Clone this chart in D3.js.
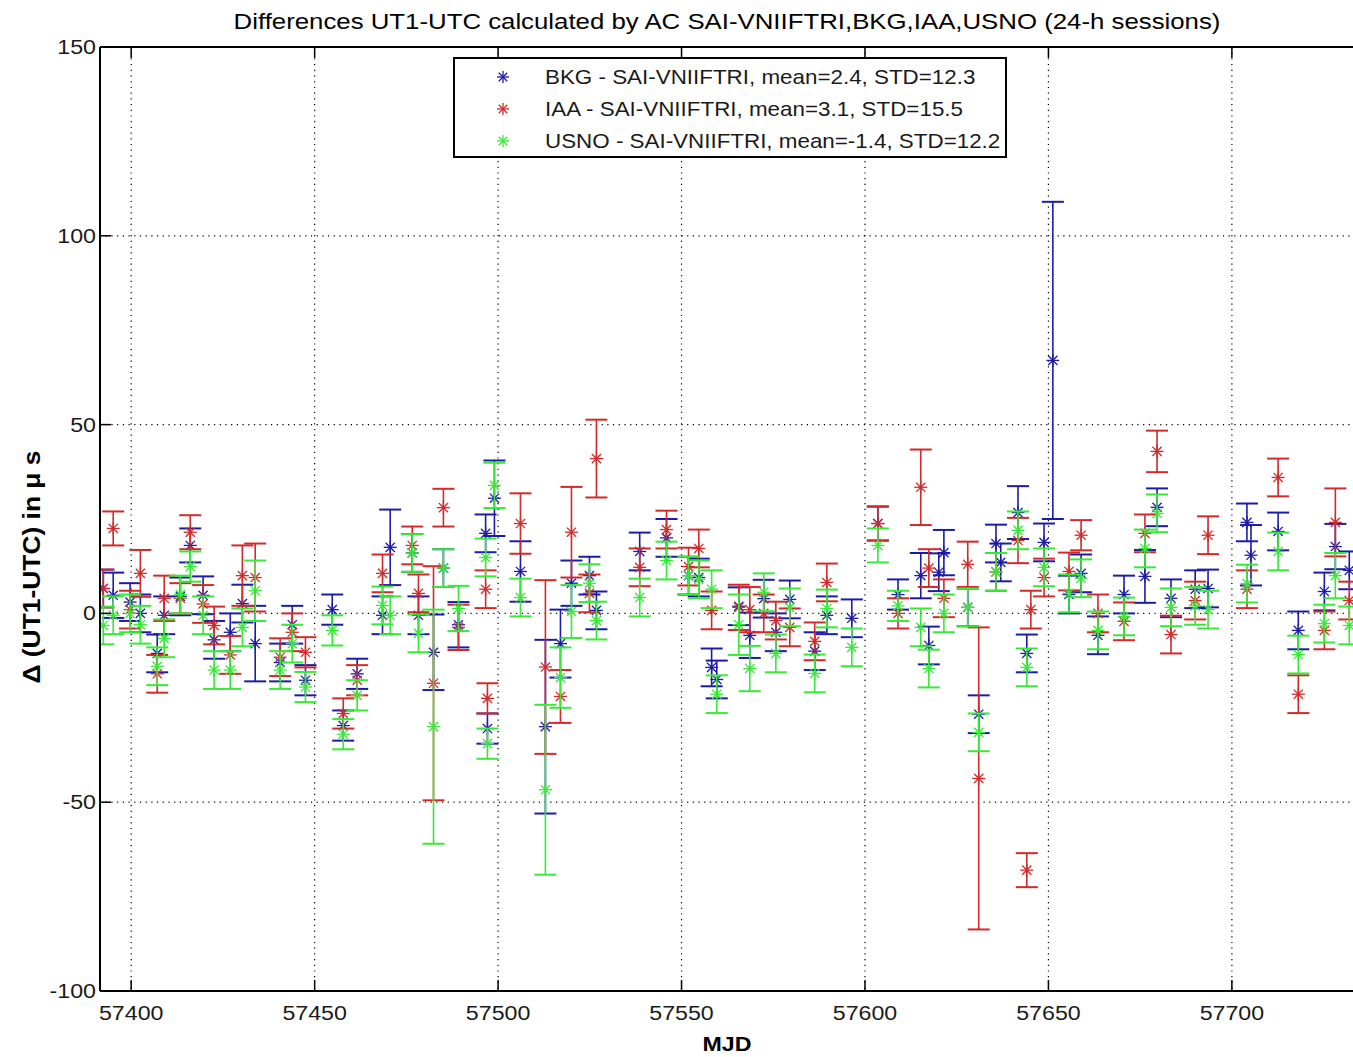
<!DOCTYPE html>
<html>
<head>
<meta charset="utf-8">
<script src="https://cdn.jsdelivr.net/npm/d3@7"></script>
<style>
  body { margin: 0; background: #fff; }
  svg { display: block; font-family: "Liberation Sans", Arial, sans-serif; }
</style>
</head>
<body>
<svg id="chart" width="1353" height="1057"></svg>
<script>
// session dates (MJD)
const mjd = [57392.4, 57395.1, 57399.7, 57402.5, 57407.1, 57409.0, 57413.4, 57416.1, 57419.6, 57422.6,
  57427.0, 57430.3, 57433.8, 57440.6, 57443.9, 57447.5, 57454.8, 57457.8, 57461.6, 57468.5,
  57470.6, 57476.6, 57478.3, 57482.4, 57485.1, 57489.2, 57496.6, 57497.1, 57499.0, 57506.1,
  57512.9, 57517.0, 57520.0, 57524.9, 57526.8, 57538.6, 57545.9, 57551.9, 57554.7, 57558.2,
  57559.6, 57565.6, 57568.6, 57572.4, 57575.7, 57579.5, 57586.3, 57589.6, 57596.4, 57603.5,
  57609.0, 57615.2, 57617.4, 57620.1, 57621.5, 57628.0, 57631.0, 57635.7, 57637.0, 57641.7,
  57644.1, 57645.2, 57648.8, 57651.2, 57655.6, 57658.9, 57663.5, 57670.6, 57676.3, 57679.6,
  57683.4, 57690.0, 57693.5, 57704.1, 57705.2, 57712.6, 57718.1, 57725.2, 57728.2, 57732.0];

// BKG - SAI-VNIIFTRI
const bkg = [6.6, 4.8, 3, 0, -10.6, -0.5, 4.5, 18, 4.8, -7,
  -5, 2.6, -8, -13, -3, -17.7, 1, -29.7, -16, -0.5,
  17.5, 16, -0.5, -10.3, 12, -3, 21.2, -30.5, 30.5, 11.1,
  -30, -8, 8, 10, 0.8, 16.4, 20, 10, 9.5, -14.3,
  -17.5, 1.9, -5.8, 3.9, -5, 3.7, -10, -0.5, -1.3, 23.8,
  5, 10, -8.5, 10.9, 16.1, 1.6, -26.7, 18.5, 13.5, 26.7,
  -10.6, null, 18.8, 67, 5, 10.6, -5.8, 5, 9.8, 28.1,
  4, 6.4, 6.6, 24.1, 15.4, 21.7, -4.5, 5.8, 17.7, 11.4];
const bkgErr = [5, 6, 5, 5, 5, 5, 5, 4.5, 5, 5,
  5, 5, 10, 5, 5, 4, 4, 4, 4, 5,
  10, 5, 5, 10, 5, 6, 5, 4, 10, 8,
  23, 9, 6, 5, 5, 5, 5, 5, 5, 5,
  5, 5, 6, 5, 5, 5, 5, 5, 5, 4.5,
  4, 6, 5, 5, 6, 5, 5, 5, 5, 7,
  5, null, 5, 42, 5, 5, 5, 5, 7, 5,
  5, 5, 5, 5, 8, 5, 5, 5, 6, 5];

// IAA - SAI-VNIIFTRI
const iaa = [6.6, 22.5, 1, 10.6, -16, 4, 4, 21.5, 2.5, -3.2,
  -11, 10, 9.5, -11.6, -5, -10.3, null, -26.5, -17.7, 10.6,
  null, 18, 5.3, -18.5, 28, -3.7, 6.4, -22.5, null, 23.8,
  -14.2, -22, 21.5, 5.3, 41, 12.2, 22.2, 12.4, 17.2, 0.8,
  null, 1.6, 1, 0, -1.9, -3.7, -7.4, 8.2, null, 23.8,
  0, 33.4, 12, null, 4, 13, -43.7, 11, null, 19.3,
  -68, 1, 9.5, null, 11.1, 20.7, 0, -2.1, 21.2, 42.9,
  -5.6, 3.4, 20.7, 6.4, null, 36, -21.4, -4.5, 24.1, 3.4];
const iaaErr = [5, 4.5, 5, 6.2, 5, 6, 4, 4.5, 5, 5,
  5, 8, 9, 5, 5, 4, null, 4, 4, 5,
  null, 5, 5, 31, 5, 6, 5, 4, null, 8,
  23, 7, 12, 5, 10.3, 5, 5, 5, 5, 5,
  null, 6, 6, 5, 5, 5, 5, 5, null, 4.5,
  4, 10, 5, null, 5, 6, 40, 5, null, 6,
  4.5, 5, 5, null, 5, 4, 5, 5, 5, 5.5,
  5, 5, 5, 5, null, 5, 5, 5, 9, 5];

// USNO - SAI-VNIIFTRI
const usno = [-3.2, -0.5, 0, -3, -14, -6.6, 5, 12.4, -0.5, -15,
  -15, -3.7, 6, -15, -8, -19.5, -4.5, -32, -21.7, 2.1,
  -0.5, 16, -5.3, -30, 12, 1.3, 14.8, -34.5, 33.9, 4.2,
  -46.7, -17, 0.5, 8, -1.9, 4.2, 14, 10, 9, 6.4,
  -21.4, -3, -14.6, 5.6, -10.6, 1.6, -15.9, 1.3, -9, 18,
  2, -3.7, -14.6, null, 0, 1.6, -31.5, 11, null, 22,
  -14.3, null, 12.2, null, 5.3, 9.3, -4.5, -0.8, 17.2, 26.5,
  1.6, 2, 1, 7.9, null, 16.4, -10.9, -2.7, 10, -3.2];
const usnoErr = [5, 5, 5, 5, 5, 5, 5, 4, 5, 5,
  5, 5, 8, 5, 5, 4, 4, 4, 4, 5,
  5, 5, 5, 31, 5, 6, 5, 4, 6, 5,
  22.5, 8, 7, 5, 5, 5, 5, 5, 5, 5,
  5, 8, 6, 5, 5, 5, 5, 5, 5, 4.5,
  4, 5, 5, null, 5, 5, 5, 5, null, 5,
  5, null, 5, null, 5, 5, 5, 5, 5, 5,
  5, 5, 5, 5, null, 5, 5, 5, 6, 5];

const seriesNames = ["BKG - SAI-VNIIFTRI, mean=2.4, STD=12.3",
  "IAA - SAI-VNIIFTRI, mean=3.1, STD=15.5",
  "USNO - SAI-VNIIFTRI, mean=-1.4, STD=12.2"];
const seriesColors = ["#1c1ca8", "#d22a2a", "#36ea36"];

const xTicks = [57400, 57450, 57500, 57550, 57600, 57650, 57700];
const yTicks = [-100, -50, 0, 50, 100, 150];

const svg = d3.select("#chart");
const margin = { top: 47, left: 100, bottom: 991 };
const xRightPx = 1397; // frame continues past the picture edge

const x = d3.scaleLinear().domain([57391.5, 57745]).range([margin.left, xRightPx]);
const y = d3.scaleLinear().domain([-100, 150]).range([margin.bottom, margin.top]);

svg.append("clipPath").attr("id", "plotclip")
  .append("rect").attr("x", margin.left).attr("y", margin.top)
  .attr("width", xRightPx - margin.left).attr("height", margin.bottom - margin.top);

// text in the original picture is a bit wider than Arial, stretch it
function label(parent, tx, ty, str, opts) {
  const sx = opts.sx || 1.16;
  return parent.append("text")
    .attr("transform", `translate(${tx},${ty})${opts.rotate ? " rotate(-90)" : ""} scale(${sx},1)`)
    .attr("text-anchor", opts.anchor || "middle")
    .attr("font-size", opts.size || 20)
    .attr("font-weight", opts.weight || "normal")
    .attr("fill", opts.fill || "#1a1a1a")
    .text(str);
}

// dotted grid
const grid = svg.append("g");
grid.selectAll(".gx").data(xTicks).enter().append("line")
  .attr("x1", d => x(d)).attr("x2", d => x(d))
  .attr("y1", margin.top).attr("y2", margin.bottom)
  .attr("stroke", "#000").attr("stroke-width", 1.2).attr("stroke-dasharray", "1.2,4.5");
grid.selectAll(".gy").data(yTicks).enter().append("line")
  .attr("x1", margin.left).attr("x2", xRightPx)
  .attr("y1", d => y(d)).attr("y2", d => y(d))
  .attr("stroke", "#000").attr("stroke-width", 1.2).attr("stroke-dasharray", "1.2,4.5");

// error bars + asterisk markers
const plot = svg.append("g").attr("clip-path", "url(#plotclip)");
const series = [
  { v: bkg, e: bkgErr },
  { v: iaa, e: iaaErr },
  { v: usno, e: usnoErr }
];
const capHalf = 11;
const starR = 6.5;

series.forEach((s, i) => {
  const pts = mjd.map((m, k) => ({ m, v: s.v[k], e: s.e[k] })).filter(p => p.v !== null);
  const col = seriesColors[i];
  const g = plot.append("g").attr("stroke", col).attr("fill", "none");

  const eb = g.selectAll(".eb").data(pts).enter().append("g");
  eb.append("line")
    .attr("x1", d => x(d.m)).attr("x2", d => x(d.m))
    .attr("y1", d => y(d.v - d.e)).attr("y2", d => y(d.v + d.e))
    .attr("stroke-width", 1.6);
  eb.append("line")
    .attr("x1", d => x(d.m) - capHalf).attr("x2", d => x(d.m) + capHalf)
    .attr("y1", d => y(d.v + d.e)).attr("y2", d => y(d.v + d.e))
    .attr("stroke-width", 2);
  eb.append("line")
    .attr("x1", d => x(d.m) - capHalf).attr("x2", d => x(d.m) + capHalf)
    .attr("y1", d => y(d.v - d.e)).attr("y2", d => y(d.v - d.e))
    .attr("stroke-width", 2);

  const st = g.selectAll(".st").data(pts).enter().append("g")
    .attr("transform", d => `translate(${x(d.m)},${y(d.v)})`);
  [0, 45, 90, 135].forEach(a => {
    st.append("line")
      .attr("x1", -starR).attr("x2", starR).attr("y1", 0).attr("y2", 0)
      .attr("transform", `rotate(${a})`)
      .attr("stroke-width", 1.3);
  });
});

// axes frame and ticks
const frame = svg.append("g").attr("stroke", "#000");
frame.append("line").attr("x1", margin.left).attr("x2", xRightPx)
  .attr("y1", margin.top).attr("y2", margin.top).attr("stroke-width", 2);
frame.append("line").attr("x1", margin.left).attr("x2", xRightPx)
  .attr("y1", margin.bottom).attr("y2", margin.bottom).attr("stroke-width", 2);
frame.append("line").attr("x1", margin.left).attr("x2", margin.left)
  .attr("y1", margin.top).attr("y2", margin.bottom).attr("stroke-width", 2);

const tickLen = 11;
xTicks.forEach(t => {
  frame.append("line").attr("x1", x(t)).attr("x2", x(t))
    .attr("y1", margin.bottom).attr("y2", margin.bottom - tickLen).attr("stroke-width", 1.5);
  frame.append("line").attr("x1", x(t)).attr("x2", x(t))
    .attr("y1", margin.top).attr("y2", margin.top + tickLen).attr("stroke-width", 1.5);
});
yTicks.forEach(t => {
  frame.append("line").attr("x1", margin.left).attr("x2", margin.left + tickLen)
    .attr("y1", y(t)).attr("y2", y(t)).attr("stroke-width", 1.5);
});

// tick labels
const tl = svg.append("g");
xTicks.forEach(t => label(tl, x(t), 1020, t, { size: 20 }));
yTicks.forEach(t => label(tl, 96, y(t) + 7, t, { size: 20, anchor: "end" }));

// title and axis labels
label(svg, 727, 29, "Differences UT1-UTC calculated by AC SAI-VNIIFTRI,BKG,IAA,USNO (24-h sessions)",
  { size: 21.5, fill: "#000", sx: 1.2 });
label(svg, 727, 1051, "MJD", { size: 20, weight: "bold", fill: "#000" });
label(svg, 40, 567, "Δ (UT1-UTC) in μ s", { size: 24, weight: "bold", fill: "#000", rotate: true, sx: 1.1 });

// legend
const lg = svg.append("g");
lg.append("rect").attr("x", 454).attr("y", 58).attr("width", 552).attr("height", 99)
  .attr("fill", "#fff").attr("stroke", "#000").attr("stroke-width", 2);
seriesNames.forEach((name, i) => {
  const ly = 77 + i * 32;
  const mk = lg.append("g").attr("transform", `translate(503,${ly})`).attr("stroke", seriesColors[i]);
  [0, 45, 90, 135].forEach(a => {
    mk.append("line").attr("x1", -6).attr("x2", 6).attr("y1", 0).attr("y2", 0)
      .attr("transform", `rotate(${a})`).attr("stroke-width", 1.3);
  });
  label(lg, 545, ly + 7, name, { size: 20, anchor: "start", sx: 1.12 });
});
</script>
</body>
</html>
